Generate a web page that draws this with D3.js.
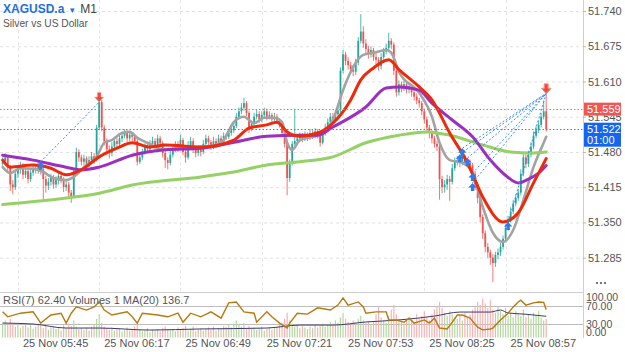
<!DOCTYPE html>
<html>
<head>
<meta charset="utf-8">
<script src="https://cdn.jsdelivr.net/npm/d3@7"></script>
<style>
    body { margin: 0; background: #fff; }
    svg { display: block; font-family: "Liberation Sans", Arial, sans-serif; }
</style>
</head>
<body>
<svg id="chart" width="625" height="352"></svg>
<script>

// DATA (XAGUSD.a, M1, 25 Nov, first bar 05:39)

var firstBarMinute = 339;
var firstOpen = 51.458;

var closes = [
    51.462, 51.470, 51.452, 51.420, 51.415, 51.440, 51.448, 51.455, 51.438, 51.445,
    51.430, 51.442, 51.450, 51.446, 51.455, 51.448, 51.430, 51.418, 51.425, 51.432,
    51.420, 51.428, 51.436, 51.430, 51.415, 51.420, 51.405, 51.398, 51.445, 51.480,
    51.470, 51.462, 51.468, 51.458, 51.465, 51.472, 51.465, 51.525, 51.572, 51.525,
    51.500, 51.485, 51.478, 51.490, 51.500, 51.495, 51.505, 51.510, 51.515, 51.505,
    51.512, 51.508, 51.500, 51.462, 51.470, 51.480, 51.490, 51.485, 51.495, 51.500,
    51.490, 51.505, 51.496, 51.478, 51.465, 51.460, 51.475, 51.485, 51.495, 51.488,
    51.502, 51.480, 51.470, 51.492, 51.500, 51.485, 51.478, 51.485, 51.480, 51.495,
    51.505, 51.498, 51.490, 51.500, 51.495, 51.505, 51.498, 51.510, 51.508, 51.515,
    51.520, 51.528, 51.545, 51.555, 51.562, 51.570, 51.552, 51.522, 51.532, 51.545,
    51.550, 51.540, 51.548, 51.555, 51.545, 51.548, 51.540, 51.545, 51.538, 51.532,
    51.515, 51.495, 51.432, 51.460, 51.495, 51.500, 51.505, 51.510, 51.505, 51.512,
    51.508, 51.515, 51.510, 51.518, 51.512, 51.497, 51.515, 51.525, 51.535, 51.545,
    51.540, 51.550, 51.557, 51.630, 51.660, 51.648, 51.640, 51.632, 51.628, 51.645,
    51.685, 51.702, 51.680, 51.670, 51.660, 51.668, 51.655, 51.650, 51.638, 51.655,
    51.665, 51.672, 51.685, 51.678, 51.630, 51.590, 51.605, 51.598, 51.605, 51.595,
    51.600, 51.590, 51.582, 51.575, 51.570, 51.555, 51.540, 51.525, 51.515, 51.505,
    51.495, 51.490, 51.430, 51.415, 51.420, 51.430, 51.425, 51.450, 51.462, 51.465,
    51.460, 51.470, 51.462, 51.460, 51.455, 51.440, 51.420, 51.395, 51.360, 51.330,
    51.305, 51.295, 51.285, 51.275, 51.290, 51.295, 51.305, 51.320, 51.340, 51.355,
    51.370, 51.385, 51.395, 51.405, 51.440, 51.470, 51.458, 51.475, 51.490, 51.510,
    51.520, 51.530, 51.545, 51.555, 51.522
];

var highs = [
    51.470, 51.478, 51.475, 51.456, 51.428, 51.446, 51.456, 51.462, 51.460, 51.452,
    51.450, 51.448, 51.458, 51.456, 51.462, 51.460, 51.452, 51.436, 51.432, 51.440,
    51.438, 51.435, 51.442, 51.445, 51.434, 51.428, 51.425, 51.410, 51.450, 51.488,
    51.485, 51.475, 51.475, 51.472, 51.472, 51.480, 51.478, 51.530, 51.582, 51.576,
    51.530, 51.505, 51.492, 51.498, 51.508, 51.506, 51.512, 51.518, 51.522, 51.520,
    51.518, 51.516, 51.512, 51.504, 51.478, 51.486, 51.496, 51.495, 51.502, 51.508,
    51.505, 51.512, 51.510, 51.500, 51.482, 51.470, 51.482, 51.492, 51.500, 51.500,
    51.512, 51.506, 51.485, 51.500, 51.508, 51.505, 51.490, 51.492, 51.490, 51.502,
    51.512, 51.510, 51.502, 51.508, 51.505, 51.512, 51.510, 51.516, 51.515, 51.522,
    51.526, 51.535, 51.552, 51.562, 51.570, 51.580, 51.574, 51.556, 51.538, 51.552,
    51.558, 51.555, 51.555, 51.562, 51.560, 51.555, 51.552, 51.552, 51.550, 51.542,
    51.536, 51.518, 51.498, 51.466, 51.500, 51.560, 51.512, 51.516, 51.515, 51.518,
    51.516, 51.522, 51.520, 51.524, 51.522, 51.515, 51.520, 51.532, 51.542, 51.552,
    51.552, 51.558, 51.565, 51.636, 51.668, 51.665, 51.655, 51.646, 51.640, 51.652,
    51.692, 51.734, 51.712, 51.688, 51.676, 51.675, 51.672, 51.662, 51.655, 51.662,
    51.672, 51.680, 51.700, 51.690, 51.682, 51.635, 51.612, 51.610, 51.612, 51.610,
    51.606, 51.605, 51.595, 51.588, 51.580, 51.574, 51.560, 51.545, 51.530, 51.520,
    51.510, 51.500, 51.494, 51.436, 51.428, 51.438, 51.436, 51.458, 51.470, 51.472,
    51.472, 51.478, 51.475, 51.468, 51.466, 51.460, 51.445, 51.424, 51.400, 51.365,
    51.335, 51.312, 51.300, 51.292, 51.296, 51.302, 51.312, 51.326, 51.346, 51.362,
    51.378, 51.392, 51.402, 51.412, 51.448, 51.478, 51.476, 51.482, 51.498, 51.518,
    51.528, 51.538, 51.552, 51.575, 51.586
];

var lows = [
    51.450, 51.455, 51.445, 51.408, 51.402, 51.410, 51.432, 51.440, 51.430, 51.432,
    51.422, 51.425, 51.436, 51.440, 51.440, 51.438, 51.388, 51.405, 51.410, 51.418,
    51.412, 51.414, 51.420, 51.422, 51.406, 51.408, 51.396, 51.386, 51.395, 51.440,
    51.462, 51.455, 51.455, 51.450, 51.452, 51.460, 51.458, 51.462, 51.520, 51.518,
    51.492, 51.475, 51.468, 51.472, 51.485, 51.488, 51.490, 51.498, 51.505, 51.498,
    51.500, 51.500, 51.494, 51.455, 51.458, 51.465, 51.475, 51.478, 51.480, 51.490,
    51.484, 51.486, 51.490, 51.470, 51.450, 51.448, 51.455, 51.470, 51.480, 51.480,
    51.484, 51.474, 51.460, 51.466, 51.486, 51.478, 51.470, 51.472, 51.472, 51.476,
    51.490, 51.492, 51.484, 51.485, 51.488, 51.490, 51.492, 51.494, 51.502, 51.504,
    51.510, 51.515, 51.524, 51.540, 51.550, 51.556, 51.546, 51.515, 51.518, 51.528,
    51.540, 51.534, 51.535, 51.542, 51.538, 51.540, 51.534, 51.535, 51.532, 51.525,
    51.508, 51.488, 51.400, 51.425, 51.455, 51.490, 51.494, 51.498, 51.498, 51.500,
    51.500, 51.502, 51.504, 51.505, 51.505, 51.490, 51.494, 51.510, 51.520, 51.530,
    51.534, 51.536, 51.545, 51.552, 51.625, 51.640, 51.632, 51.624, 51.620, 51.622,
    51.640, 51.680, 51.672, 51.662, 51.652, 51.654, 51.648, 51.642, 51.630, 51.632,
    51.650, 51.660, 51.668, 51.670, 51.622, 51.582, 51.584, 51.590, 51.592, 51.588,
    51.588, 51.582, 51.575, 51.568, 51.562, 51.548, 51.532, 51.518, 51.505, 51.496,
    51.488, 51.482, 51.392, 51.404, 51.405, 51.410, 51.390, 51.420, 51.445, 51.455,
    51.452, 51.455, 51.455, 51.452, 51.446, 51.432, 51.410, 51.385, 51.350, 51.320,
    51.295, 51.285, 51.272, 51.240, 51.268, 51.282, 51.288, 51.300, 51.315, 51.335,
    51.350, 51.365, 51.380, 51.390, 51.400, 51.435, 51.450, 51.452, 51.470, 51.485,
    51.505, 51.515, 51.525, 51.540, 51.518
];

var volumes = [
    95, 110, 80, 120, 90, 70, 85, 60, 75, 90,
    65, 80, 55, 70, 85, 100, 60, 75, 50, 65,
    70, 55, 60, 45, 80, 65, 90, 75, 110, 70,
    55, 60, 50, 65, 45, 70, 80, 120, 150, 95,
    70, 60, 50, 65, 45, 55, 60, 40, 50, 65,
    45, 55, 70, 85, 50, 40, 45, 60, 35, 50,
    45, 55, 40, 60, 70, 50, 45, 55, 40, 65,
    50, 60, 75, 45, 55, 70, 40, 50, 60, 45,
    55, 65, 50, 70, 45, 60, 55, 75, 70, 85,
    65, 90, 110, 85, 70, 95, 60, 75, 55, 65,
    50, 60, 70, 45, 55, 65, 50, 60, 70, 80,
    95, 120, 160, 110, 90, 70, 80, 60, 75, 65,
    55, 70, 60, 80, 65, 75, 90, 70, 85, 100,
    90, 110, 95, 130, 160, 120, 100, 85, 110, 95,
    120, 140, 110, 95, 105, 85, 100, 150, 200, 130,
    110, 95, 140, 180, 210, 150, 120, 100, 90, 115,
    130, 110, 95, 150, 120, 140, 170, 130, 110, 150,
    180, 200, 230, 190, 160, 140, 170, 150, 130, 120,
    140, 110, 160, 130, 150, 180, 200, 230, 210, 250,
    220, 190, 240, 180, 160, 200, 170, 150, 190, 140,
    160, 130, 170, 150, 140, 180, 130, 150, 120, 160,
    140, 170, 130, 110, 120
];

// moving averages, [bar, value]
var maFast = [[0,51.452],[3,51.441],[7,51.450],[12,51.449],[16,51.443],[20,51.432],[25,51.428],[28,51.434],
    [32,51.452],[37,51.471],[40,51.497],[43,51.502],[47,51.515],[50,51.517],[53,51.506],[57,51.497],
    [64,51.484],[69,51.487],[76,51.489],[84,51.493],[87,51.502],[91,51.535],[95,51.545],[99,51.533],
    [103,51.543],[107,51.543],[110,51.535],[112,51.497],[114,51.484],[117,51.502],[124,51.511],[130,51.539],
    [134,51.594],[138,51.637],[142,51.659],[146,51.663],[151,51.668],[153,51.663],[156,51.628],[164,51.589],
    [169,51.545],[172,51.497],[176,51.465],[181,51.460],[185,51.441],[189,51.379],[193,51.331],[197,51.314],
    [201,51.336],[205,51.391],[209,51.452],[213,51.497],[214,51.508]];

var maRed = [[0,51.465],[3,51.452],[12,51.456],[19,51.450],[25,51.438],[31,51.447],[38,51.471],[45,51.487],
    [51,51.497],[58,51.489],[64,51.493],[78,51.489],[91,51.502],[97,51.524],[104,51.530],[108,51.535],
    [112,51.517],[117,51.509],[124,51.515],[130,51.533],[137,51.576],[141,51.613],[146,51.635],[152,51.650],
    [156,51.632],[164,51.600],[169,51.576],[176,51.515],[183,51.460],[189,51.397],[197,51.351],[203,51.368],
    [209,51.423],[214,51.468]];

var maPurple = [[0,51.474],[12,51.465],[25,51.452],[31,51.447],[38,51.452],[51,51.474],[64,51.484],[78,51.487],
    [91,51.498],[104,51.509],[117,51.511],[124,51.511],[130,51.526],[143,51.563],[151,51.598],[156,51.600],
    [164,51.594],[169,51.570],[177,51.539],[185,51.508],[192,51.465],[199,51.433],[203,51.423],[207,51.430],
    [211,51.441],[214,51.455]];

var maGreen = [[0,51.383],[25,51.395],[38,51.404],[51,51.419],[78,51.434],[91,51.443],[104,51.456],[117,51.462],
    [130,51.471],[143,51.497],[156,51.511],[167,51.517],[176,51.511],[189,51.493],[200,51.480],[208,51.478],
    [214,51.480]];

var rsi = [[0,57],[2,46],[7,54],[12,57],[15,32],[19,50],[23,54],[25,32],[27,54],[29,68],[33,61],[36,68],
    [38,79],[40,61],[43,50],[49,57],[51,46],[53,32],[55,54],[61,50],[65,46],[69,54],[71,34],[74,54],
    [78,46],[82,57],[86,43],[89,77],[92,79],[95,57],[99,54],[100,34],[104,57],[106,46],[109,32],[112,21],
    [113,32],[116,54],[120,52],[124,66],[129,61],[132,72],[134,88],[136,72],[140,79],[142,68],[143,54],
    [147,57],[151,57],[152,39],[155,39],[158,34],[160,43],[162,32],[166,39],[168,32],[170,43],[172,21],
    [175,19],[177,34],[179,50],[181,50],[184,43],[187,23],[189,17],[192,19],[193,21],[196,39],[199,54],
    [201,68],[203,79],[204,83],[206,72],[209,77],[211,79],[213,78],[214,62.4]];

var volumeMA = [[0,93],[12,87],[25,61],[38,61],[58,48],[78,55],[104,61],[117,80],[130,80],[143,100],
    [156,113],[170,138],[180,164],[192,164],[196,177],[199,158],[206,150],[214,136.7]];

// trades: open bar, open price, close bar, close price
var tradeOpenBar   = [15, 180, 181, 183, 185, 185, 199];
var tradeOpenPrice = [51.462, 51.476, 51.487, 51.469, 51.441, 51.423, 51.351];
var tradeCloseBar  = [38, 214, 214, 214, 214, 214, 214];
var tradeClosePrice = [51.572, 51.588, 51.588, 51.588, 51.588, 51.588, 51.588];

var priceTicks = [51.740, 51.675, 51.610, 51.545, 51.480, 51.415, 51.350, 51.285];
var timeTicks = ["05:45", "06:17", "06:49", "07:21", "07:53", "08:25", "08:57"];
var rsiLevels = [70, 30];
var rsiLabels = [100, 70, 30, 0];

var askPrice = 51.559, bidPrice = 51.522, countdown = "01:00";
var symbol = "XAGUSD.a", period = "M1", description = "Silver vs US Dollar";
var subLabel = "RSI(7) 62.40 Volumes 1 MA(20) 136.7";

// SCALES

var svg = d3.select("svg#chart"),
    plotRight = 583;

function tm(m) { return new Date(2025, 10, 25, 0, 0, 0, Math.round(m * 60000)); }
function hm(s) { var p = s.split(":"); return +p[0] * 60 + +p[1]; }

var x = d3.scaleTime()
    .domain([tm(firstBarMinute - 1.047), tm(firstBarMinute + 228.48)])
    .range([0, plotRight]);
var y = d3.scaleLinear().domain([51.285, 51.740]).range([257.7, 11]);
var yR = d3.scaleLinear().domain([0, 100]).range([337.5, 292.5]);
var yV = d3.scaleLinear().domain([0, 290]).range([337.5, 292.5]);

function bx(i) { return x(tm(firstBarMinute + i)); }

var bars = closes.map(function (c, i) {
    var o = i === 0 ? firstOpen : closes[i - 1];
    return { i: i, o: o, c: c, h: highs[i], l: lows[i], v: volumes[i] };
});

var step = bx(1) - bx(0);

// GRID

var grid = svg.append("g");

grid.selectAll(".hgrid")
    .data(priceTicks)
    .enter().append("line")
    .attr("x1", 0).attr("x2", plotRight)
    .attr("y1", function (d) { return y(d) + 0.5; })
    .attr("y2", function (d) { return y(d) + 0.5; })
    .attr("stroke", "#e2e2e2")
    .attr("stroke-dasharray", "3,3");

grid.selectAll(".vgrid")
    .data(timeTicks)
    .enter().append("line")
    .attr("x1", function (d) { return Math.round(x(tm(hm(d)))) + 0.5; })
    .attr("x2", function (d) { return Math.round(x(tm(hm(d)))) + 0.5; })
    .attr("y1", 0).attr("y2", 292)
    .attr("stroke", "#e6e6e6")
    .attr("stroke-dasharray", "3,3");

// SUB PANEL (volumes + rsi)

var sub = svg.append("g");

sub.append("line")
    .attr("x1", 0).attr("x2", plotRight)
    .attr("y1", 292.5).attr("y2", 292.5)
    .attr("stroke", "#cfcfcf");

sub.selectAll(".lvl")
    .data(rsiLevels)
    .enter().append("line")
    .attr("x1", 0).attr("x2", plotRight)
    .attr("y1", function (d) { return Math.round(yR(d)) + 0.5; })
    .attr("y2", function (d) { return Math.round(yR(d)) + 0.5; })
    .attr("stroke", "#bdbdbd");

sub.selectAll(".vol")
    .data(bars)
    .enter().append("rect")
    .attr("x", function (d) { return bx(d.i) - 0.6; })
    .attr("y", function (d) { return yV(d.v); })
    .attr("width", 1.2)
    .attr("height", function (d) { return yV(0) - yV(d.v); })
    .attr("fill", function (d) { return d.c >= d.o ? "#b5d6a0" : "#f6b3b3"; });

sub.append("path")
    .datum(volumeMA)
    .attr("fill", "none")
    .attr("stroke", "#3d3a6e")
    .attr("stroke-width", 1)
    .attr("d", d3.line().x(function (d) { return bx(d[0]); }).y(function (d) { return yV(d[1]); }).curve(d3.curveMonotoneX));

sub.append("path")
    .datum(rsi)
    .attr("fill", "none")
    .attr("stroke", "#b8790f")
    .attr("stroke-width", 1.4)
    .attr("d", d3.line().x(function (d) { return bx(d[0]); }).y(function (d) { return yR(d[1]); }));

sub.append("text")
    .attr("x", 3).attr("y", 304)
    .attr("font-size", "11px")
    .attr("fill", "#555")
    .text(subLabel);

// CANDLES

var candles = svg.append("g");

candles.selectAll(".wick")
    .data(bars)
    .enter().append("line")
    .attr("x1", function (d) { return bx(d.i); })
    .attr("x2", function (d) { return bx(d.i); })
    .attr("y1", function (d) { return y(d.h); })
    .attr("y2", function (d) { return y(d.l); })
    .attr("stroke", function (d) { return d.c >= d.o ? "#26a69a" : "#ef5350"; })
    .attr("stroke-width", 0.8);

candles.selectAll(".body")
    .data(bars)
    .enter().append("rect")
    .attr("x", function (d) { return bx(d.i) - step * 0.35; })
    .attr("y", function (d) { return y(Math.max(d.o, d.c)); })
    .attr("width", step * 0.7)
    .attr("height", function (d) { return Math.max(0.8, Math.abs(y(d.o) - y(d.c))); })
    .attr("fill", function (d) { return d.c >= d.o ? "#26a69a" : "#ef5350"; });

// MOVING AVERAGES

var maLine = d3.line()
    .x(function (d) { return bx(d[0]); })
    .y(function (d) { return y(d[1]); })
    .curve(d3.curveMonotoneX);

[[maFast, "#a3a3a3", 2.6], [maGreen, "#95d164", 3], [maPurple, "#9b2fbf", 3], [maRed, "#ee2a0a", 3]]
    .forEach(function (m) {
        svg.append("path")
            .datum(m[0])
            .attr("fill", "none")
            .attr("stroke", m[1])
            .attr("stroke-width", m[2])
            .attr("stroke-linecap", "round")
            .attr("d", maLine);
    });

// ASK / BID LINES

svg.append("line")
    .attr("x1", 0).attr("x2", plotRight)
    .attr("y1", Math.round(y(askPrice)) + 0.5).attr("y2", Math.round(y(askPrice)) + 0.5)
    .attr("stroke", "#f26a6a").attr("stroke-dasharray", "1.5,2");

svg.append("line")
    .attr("x1", 0).attr("x2", plotRight)
    .attr("y1", Math.round(y(bidPrice)) + 0.5).attr("y2", Math.round(y(bidPrice)) + 0.5)
    .attr("stroke", "#3d7ff0").attr("stroke-dasharray", "1.5,2");

// TRADES

var trades = tradeOpenBar.map(function (b, k) {
    return { ob: b, op: tradeOpenPrice[k], cb: tradeCloseBar[k], cp: tradeClosePrice[k] };
});

svg.selectAll(".tline")
    .data(trades)
    .enter().append("line")
    .attr("x1", function (d) { return bx(d.ob); })
    .attr("y1", function (d) { return y(d.op); })
    .attr("x2", function (d) { return bx(d.cb); })
    .attr("y2", function (d) { return y(d.cp); })
    .attr("stroke", "#3d8bff")
    .attr("stroke-width", 1)
    .attr("stroke-dasharray", "2,2");

svg.selectAll(".buy")
    .data(trades)
    .enter().append("path")
    .attr("transform", function (d) { return "translate(" + bx(d.ob) + "," + y(d.op) + ")"; })
    .attr("d", "M0,0L4.2,4.5L1.7,4.5L1.7,8L-1.7,8L-1.7,4.5L-4.2,4.5Z")
    .attr("fill", "#2b7cf0");

svg.selectAll(".sell")
    .data(trades)
    .enter().append("path")
    .attr("transform", function (d) { return "translate(" + bx(d.cb) + "," + y(d.cp) + ")"; })
    .attr("d", "M0,0L4.6,-5L1.8,-5L1.8,-9.5L-1.8,-9.5L-1.8,-5L-4.6,-5Z")
    .attr("fill", "#f0483c")
    .attr("stroke", "#f8a8a0")
    .attr("stroke-width", 0.6);

// AXES

svg.append("line")
    .attr("x1", plotRight + 0.5).attr("x2", plotRight + 0.5)
    .attr("y1", 0).attr("y2", 338)
    .attr("stroke", "#d0d0d0");

var axisY = svg.append("g")
    .attr("transform", "translate(" + plotRight + ",0)")
    .call(d3.axisRight(y).tickValues(priceTicks).tickSize(3).tickPadding(2).tickFormat(d3.format(".3f")));

axisY.select("path.domain").remove();
axisY.selectAll(".tick line").attr("stroke", "#bbb");
axisY.selectAll("text")
    .attr("font-family", "Liberation Sans, Arial, sans-serif")
    .attr("font-size", "11px")
    .attr("fill", "#555");

svg.selectAll(".rsilab")
    .data(rsiLabels)
    .enter().append("text")
    .attr("x", 586)
    .attr("y", function (d) { return d === 100 ? yR(d) + 5 : d === 0 ? yR(d) - 5 : yR(d); })
    .attr("dy", "0.35em")
    .attr("font-size", "10.5px")
    .attr("fill", "#555")
    .text(function (d) { return d3.format(".2f")(d); });

svg.selectAll(".tlab")
    .data(timeTicks)
    .enter().append("text")
    .attr("x", function (d) { return x(tm(hm(d))) + 5; })
    .attr("y", 347)
    .attr("font-size", "11px")
    .attr("fill", "#555")
    .text(function (d) { return d3.timeFormat("%d %b %H:%M")(tm(hm(d))); });

svg.selectAll(".dots")
    .data([0, 1, 2])
    .enter().append("circle")
    .attr("cx", function (d) { return 597 + d * 4; })
    .attr("cy", 283)
    .attr("r", 1.1)
    .attr("fill", "#555");

// PRICE LABELS

svg.append("rect")
    .attr("x", 584).attr("y", y(askPrice) - 6.5)
    .attr("width", 37).attr("height", 13)
    .attr("fill", "#f05656");
svg.append("text")
    .attr("x", 587).attr("y", y(askPrice)).attr("dy", "0.35em")
    .attr("font-size", "11px").attr("fill", "#fff")
    .text(d3.format(".3f")(askPrice));

svg.append("rect")
    .attr("x", 584).attr("y", y(bidPrice) - 6.5)
    .attr("width", 37).attr("height", 24)
    .attr("fill", "#1565f0");
svg.append("text")
    .attr("x", 587).attr("y", y(bidPrice)).attr("dy", "0.35em")
    .attr("font-size", "11px").attr("fill", "#fff")
    .text(d3.format(".3f")(bidPrice));
svg.append("text")
    .attr("x", 587).attr("y", y(bidPrice) + 11).attr("dy", "0.35em")
    .attr("font-size", "11px").attr("fill", "#fff")
    .text(countdown);

// HEADER

var head = svg.append("text").attr("x", 3).attr("y", 13).attr("font-size", "12px");
head.append("tspan").attr("font-weight", "bold").attr("fill", "#1f6fe0").text(symbol);
head.append("tspan").attr("dx", 4).attr("font-size", "8px").attr("fill", "#1f6fe0").text("\u25BC");
head.append("tspan").attr("dx", 4).attr("fill", "#444").text(period);

svg.append("text")
    .attr("x", 3).attr("y", 27)
    .attr("font-size", "10.2px")
    .attr("fill", "#555")
    .text(description);

</script>
</body>
</html>
